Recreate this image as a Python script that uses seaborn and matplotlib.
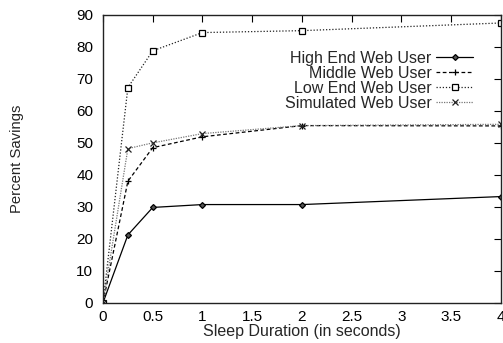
import matplotlib
matplotlib.use("Agg")
import matplotlib.pyplot as plt
import seaborn as sns
import pandas as pd

sleep = [0, 0.25, 0.5, 1, 2, 4]
high_end = [0, 21.2, 29.8, 30.7, 30.7, 33.2]
middle = [0, 38.0, 48.5, 51.9, 55.4, 55.3]
low_end = [0, 67.3, 78.8, 84.5, 85.1, 87.5]
simulated = [0, 48.2, 50.0, 52.9, 55.4, 55.8]
names = ["High End Web User", "Middle Web User", "Low End Web User", "Simulated Web User"]
xticks = [0, 0.5, 1, 1.5, 2, 2.5, 3, 3.5, 4]
xticklabels = ["0", "0.5", "1", "1.5", "2", "2.5", "3", "3.5", "4"]
yticks = list(range(0, 91, 10))

sns.set_style("white")
plt.rcParams['font.family'] = ['Liberation Sans', 'DejaVu Sans']

fig = plt.figure(figsize=(5.03, 3.43), dpi=100)
ax = fig.add_axes([0.2048, 0.1175, 0.791, 0.8388])

styles = [
    dict(color="black", linestyle="-", marker="D", markersize=3, markerfacecolor="#555555", markeredgecolor="black"),
    dict(color="black", linestyle=(0, (3, 2)), marker="+", markersize=5, markeredgecolor="black"),
    dict(color="#222222", linestyle=(0, (1, 1.5)), marker="s", markersize=4, markerfacecolor="white", markeredgecolor="black"),
    dict(color="#777777", linestyle=(0, (1, 1)), marker="x", markersize=4, markeredgecolor="#222222"),
]
series = [high_end, middle, low_end, simulated]
for name, vals, st in zip(names, series, styles):
    df = pd.DataFrame({"x": sleep, "y": vals})
    sns.lineplot(data=df, x="x", y="y", ax=ax, label=name, linewidth=0.9,
                 markeredgewidth=0.9, **st)

ax.set_xlim(0, 4)
ax.set_ylim(0, 90)
ax.set_xticks(xticks)
ax.set_xticklabels(xticklabels)
ax.set_yticks(yticks)
ax.tick_params(direction="in", top=True, right=True, length=5, width=0.8,
               labelsize=11, colors="black")
ax.tick_params(axis="x", pad=5.5)
ax.tick_params(axis="y", pad=7)
for s in ax.spines.values():
    s.set_color("#222222")
    s.set_linewidth(1.0)

ax.set_xlabel("Sleep Duration (in seconds)", fontsize=11.5, labelpad=0)
ax.set_ylabel("Percent Savings", fontsize=10.7)
ax.yaxis.set_label_coords(-0.198, 0.5)

leg = ax.legend(loc="upper right", bbox_to_anchor=(0.93, 0.875), frameon=False,
                markerfirst=False, fontsize=11.5, handlelength=2.3,
                labelspacing=0.0, handletextpad=0.3, borderaxespad=0, borderpad=0)
for t in leg.get_texts():
    t.set_ha("right")
leg._legend_box.align = "right"

fig.savefig("out.png", dpi=100)
